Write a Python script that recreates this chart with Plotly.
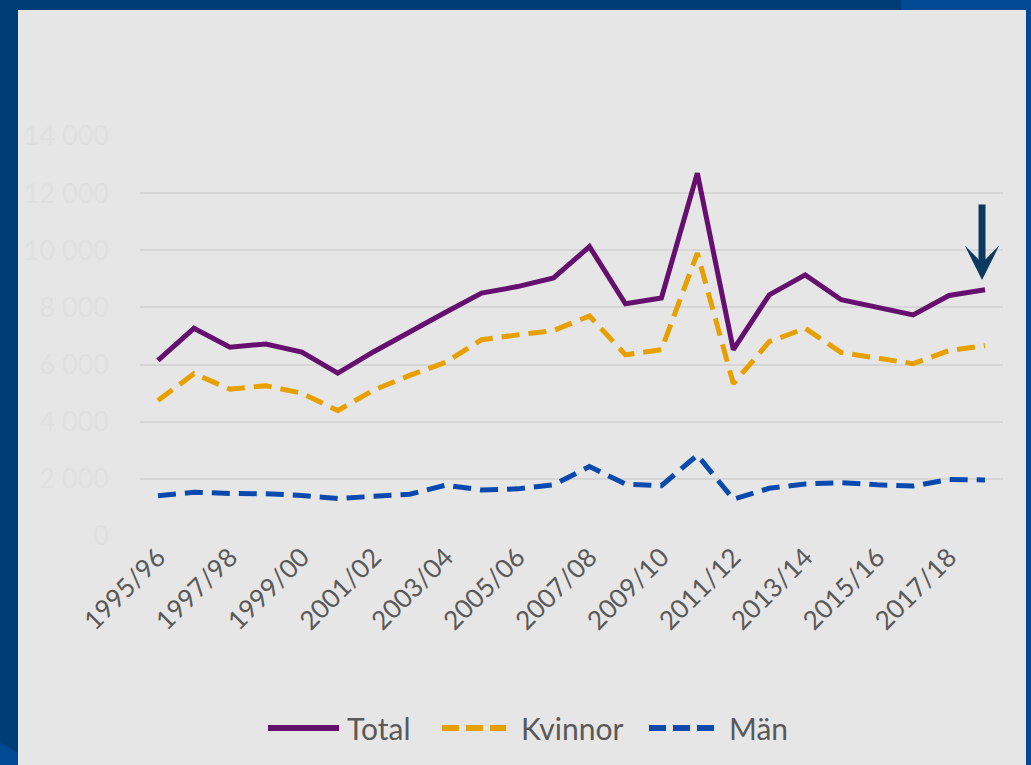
import plotly.graph_objects as go

categories = ["1995/96", "1996/97", "1997/98", "1998/99", "1999/00", "2000/01", "2001/02", "2002/03",
              "2003/04", "2004/05", "2005/06", "2006/07", "2007/08", "2008/09", "2009/10", "2010/11",
              "2011/12", "2012/13", "2013/14", "2014/15", "2015/16", "2016/17", "2017/18", "2018/19"]
total = [6150, 7270, 6610, 6720, 6440, 5700, 6450, 7160, 7830, 8500, 8730, 9030,
         10130, 8130, 8330, 12700, 6520, 8440, 9140, 8270, 8010, 7740, 8420, 8620]
kvinnor = [4740, 5680, 5140, 5260, 5000, 4390, 5110, 5620, 6080, 6870, 7040, 7190,
           7700, 6340, 6520, 9900, 5330, 6800, 7270, 6420, 6230, 6030, 6490, 6660]
man = [1410, 1530, 1490, 1480, 1420, 1310, 1390, 1460, 1780, 1610, 1650, 1790,
       2430, 1820, 1760, 2830, 1290, 1670, 1820, 1870, 1790, 1750, 1980, 1960]
y_ticks = [0, 2000, 4000, 6000, 8000, 10000, 12000, 14000]
y_labels = ["0", "2 000", "4 000", "6 000", "8 000", "10 000", "12 000", "14 000"]
series_names = ["Total", "Kvinnor", "Män"]
series_colors = ["#65106f", "#e8a000", "#0a4aae"]
series_dash = ["solid", "18px,9px", "18px,9px"]

W, H = 1031, 765
L, R, T, B = 140, 1003, 136, 536


def px(xp):
    return (xp - L) / (R - L)


def py(yp):
    return (B - yp) / (B - T)


FONT = "Lato"
idx = list(range(len(categories)))

fig = go.Figure()
for name, vals, col, dash in zip(series_names, [total, kvinnor, man], series_colors, series_dash):
    fig.add_trace(go.Scatter(x=idx, y=vals, name=name, mode="lines", showlegend=False,
                             line=dict(color=col, width=5, dash=dash)))

navy = "#003d77"
light = "#004a95"
shapes = [
    dict(type="rect", xref="paper", yref="paper", x0=px(-5), x1=px(18), y0=py(H + 5), y1=py(-5),
         fillcolor=navy, line=dict(width=0), layer="above"),
    dict(type="rect", xref="paper", yref="paper", x0=px(-5), x1=px(W + 5), y0=py(10), y1=py(-5),
         fillcolor=navy, line=dict(width=0), layer="above"),
    dict(type="rect", xref="paper", yref="paper", x0=px(901), x1=px(W + 5), y0=py(10), y1=py(-5),
         fillcolor=light, line=dict(width=0), layer="above"),
    dict(type="rect", xref="paper", yref="paper", x0=px(1026), x1=px(W + 5), y0=py(H + 5), y1=py(-5),
         fillcolor=light, line=dict(width=0), layer="above"),
    dict(type="path", xref="paper", yref="paper",
         path=f"M {px(-5)},{py(740)} L {px(18)},{py(753)} L {px(18)},{py(H+5)} L {px(-5)},{py(H+5)} Z",
         fillcolor=light, line=dict(width=0), layer="above"),
]

# legend (drawn as samples + labels, matching the original's long line samples)
legend_sample_x = [(268, 339), (442, 506), (649, 715)]
legend_text_x = [345, 519, 727]
legend_y = 728
legend_dash = ["solid", "17px,7px", "17px,7px"]
annotations = []
for (x0, x1), tx, name, col, dash in zip(legend_sample_x, legend_text_x, series_names,
                                         series_colors, legend_dash):
    shapes.append(dict(type="line", xref="paper", yref="paper", x0=px(x0), x1=px(x1),
                       y0=py(legend_y), y1=py(legend_y), line=dict(color=col, width=6, dash=dash),
                       layer="above"))
    annotations.append(dict(x=px(tx), y=py(legend_y), xref="paper", yref="paper", text=name,
                            showarrow=False, xanchor="left", yanchor="middle",
                            font=dict(family=FONT, size=30, color="#595959")))

annotations.append(dict(x=len(categories) - 1, y=8960, xref="x", yref="y", text="",
                        showarrow=True, ax=0, ay=-77, axref="pixel", ayref="pixel", xshift=-3,
                        arrowhead=3, arrowsize=0.82, arrowwidth=7, arrowcolor="#0c3960"))

fig.update_layout(
    width=W, height=H,
    margin=dict(l=L, r=W - R, t=T, b=H - B, pad=0),
    paper_bgcolor="#e6e6e6", plot_bgcolor="#e6e6e6",
    font=dict(family=FONT, color="#595959", size=26),
    showlegend=False,
    shapes=shapes,
    xaxis=dict(range=[-0.5, len(categories) - 0.5], tickmode="array",
               tickvals=idx[::2], ticktext=categories[::2], tickangle=-45,
               showgrid=False, zeroline=False, showline=False, ticks="",
               tickfont=dict(family=FONT, size=26, color="#595959")),
    yaxis=dict(range=[0, 14000], tickmode="array", tickvals=y_ticks, ticktext=y_labels,
               showgrid=True, gridcolor="#d6d6d6", gridwidth=1.5, zeroline=False, showline=False,
               ticks="", ticklabelstandoff=30,
               tickfont=dict(family=FONT, size=27, color="#e0e0e0")),
    annotations=annotations,
)

fig.write_html("out.html", config={"displayModeBar": False},
               post_script="document.body.style.margin='0px';document.body.style.overflow='hidden';")
